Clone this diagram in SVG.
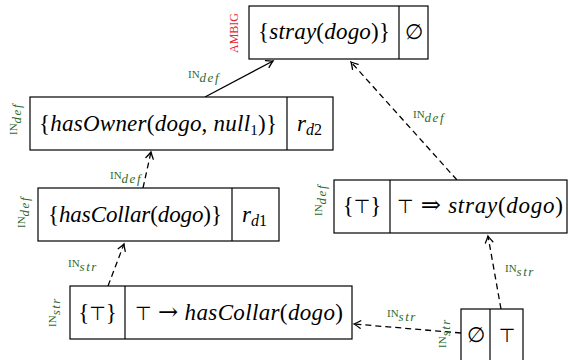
<svg xmlns="http://www.w3.org/2000/svg" width="568" height="360" viewBox="0 0 568 360">
<defs>
<style>
.box{fill:#fff;stroke:#000;stroke-width:1.2}
.dv{stroke:#000;stroke-width:1.2}
.m{font-family:"Liberation Serif","DejaVu Serif",serif;font-size:23px;fill:#000}
.i{font-style:italic}
.sym{font-family:"DejaVu Sans",sans-serif;font-size:19px;fill:#000}
.syms{font-family:"DejaVu Serif",serif;font-size:21px;fill:#000}
.arr{font-family:"DejaVu Serif",serif;font-size:24px;fill:#000}
.lab{font-family:"Liberation Serif","DejaVu Serif",serif;font-size:11px;fill:#2d6a2d}
.sb{font-style:italic;font-size:13px;letter-spacing:1.5px}
.amb{font-family:"Liberation Serif","DejaVu Serif",serif;font-size:12px;fill:#e8262a}
.c{stroke:#000;stroke-width:1.3;fill:none}
.d{stroke-dasharray:6 4}
</style>
<marker id="ah" viewBox="-8 -5 10 10" refX="0" refY="0" markerWidth="10" markerHeight="10" markerUnits="userSpaceOnUse" orient="auto">
<path d="M-6.5 -3.8 Q-2 -0.9 0 0 Q-2 0.9 -6.5 3.8" fill="none" stroke="#000" stroke-width="1.3" stroke-linecap="round"/>
</marker>
</defs>
<rect width="568" height="360" fill="#fff"/>

<g id="connectors">
<path class="c" d="M205 97 L273 61" marker-end="url(#ah)"/>
<path class="c d" d="M457 180 L351 62" marker-end="url(#ah)"/>
<path class="c d" d="M143 188 L151 152" marker-end="url(#ah)"/>
<path class="c d" d="M108 286 L124 244" marker-end="url(#ah)"/>
<path class="c d" d="M501 309 L488 236" marker-end="url(#ah)"/>
<path class="c d" d="M461 333 L354 324" marker-end="url(#ah)"/>
<text class="lab" x="188" y="78">IN<tspan class="sb" dy="4">def</tspan></text>
<text class="lab" x="413" y="118">IN<tspan class="sb" dy="4">def</tspan></text>
<text class="lab" x="110" y="179">IN<tspan class="sb" dy="4">def</tspan></text>
<text class="lab" x="68" y="267">IN<tspan class="sb" dy="4">str</tspan></text>
<text class="lab" x="505" y="272">IN<tspan class="sb" dy="4">str</tspan></text>
<text class="lab" x="387" y="317">IN<tspan class="sb" dy="4">str</tspan></text>
</g>

<g id="n1">
<rect class="box" x="249" y="6" width="179" height="53"/>
<line class="dv" x1="399" y1="6" x2="399" y2="59"/>
<text class="m" x="324" y="39" text-anchor="middle" textLength="132">{<tspan class="i">stray</tspan>(<tspan class="i">dogo</tspan>)}</text>
<text class="syms" x="413.5" y="39" text-anchor="middle">∅</text>
<text class="amb" transform="translate(238 33) rotate(-90)" text-anchor="middle">AMBIG</text>
</g>

<g id="n2">
<rect class="box" x="30" y="97" width="303" height="53"/>
<line class="dv" x1="287" y1="97" x2="287" y2="150"/>
<text class="m" x="158" y="131" text-anchor="middle" textLength="238">{<tspan class="i">hasOwner</tspan>(<tspan class="i">dogo</tspan>, <tspan class="i">null</tspan><tspan font-size="15" dy="4">1</tspan><tspan dy="-4">)}</tspan></text>
<text class="m" x="297" y="131"><tspan class="i">r</tspan><tspan class="i" font-size="16" dy="4">d</tspan><tspan font-size="16">2</tspan></text>
<text class="lab" transform="translate(17 119) rotate(-90)" text-anchor="middle">IN<tspan class="sb" dy="4">def</tspan></text>
</g>

<g id="n3">
<rect class="box" x="38" y="188" width="241" height="53"/>
<line class="dv" x1="232" y1="188" x2="232" y2="241"/>
<text class="m" x="135" y="222" text-anchor="middle" textLength="174">{<tspan class="i">hasCollar</tspan>(<tspan class="i">dogo</tspan>)}</text>
<text class="m" x="242" y="222"><tspan class="i">r</tspan><tspan class="i" font-size="16" dy="4">d</tspan><tspan font-size="16">1</tspan></text>
<text class="lab" transform="translate(25 212) rotate(-90)" text-anchor="middle">IN<tspan class="sb" dy="4">def</tspan></text>
</g>

<g id="n4">
<rect class="box" x="334" y="180" width="233" height="53"/>
<line class="dv" x1="390" y1="180" x2="390" y2="233"/>
<text class="m" x="362" y="213" text-anchor="middle">{<tspan class="sym">⊤</tspan>}</text>
<text class="m" x="480" y="213" text-anchor="middle" textLength="166"><tspan class="sym">⊤</tspan> <tspan class="arr">⇒</tspan> <tspan class="i">stray</tspan>(<tspan class="i">dogo</tspan>)</text>
<text class="lab" transform="translate(322 200) rotate(-90)" text-anchor="middle">IN<tspan class="sb" dy="4">def</tspan></text>
</g>

<g id="n5">
<rect class="box" x="70" y="286" width="282" height="53"/>
<line class="dv" x1="125" y1="286" x2="125" y2="339"/>
<text class="m" x="97.5" y="320" text-anchor="middle">{<tspan class="sym">⊤</tspan>}</text>
<text class="m" x="239" y="320" text-anchor="middle" textLength="208"><tspan class="sym">⊤</tspan> <tspan class="arr">→</tspan> <tspan class="i">hasCollar</tspan>(<tspan class="i">dogo</tspan>)</text>
<text class="lab" transform="translate(56 312) rotate(-90)" text-anchor="middle">IN<tspan class="sb" dy="4">str</tspan></text>
</g>

<g id="n6">
<rect class="box" x="461" y="309" width="62" height="53"/>
<line class="dv" x1="490" y1="309" x2="490" y2="362"/>
<text class="syms" x="475.5" y="342" text-anchor="middle">∅</text>
<text class="sym" x="507" y="342" text-anchor="middle">⊤</text>
<text class="lab" transform="translate(446 333) rotate(-90)" text-anchor="middle">IN<tspan class="sb" dy="4">str</tspan></text>
</g>
</svg>
